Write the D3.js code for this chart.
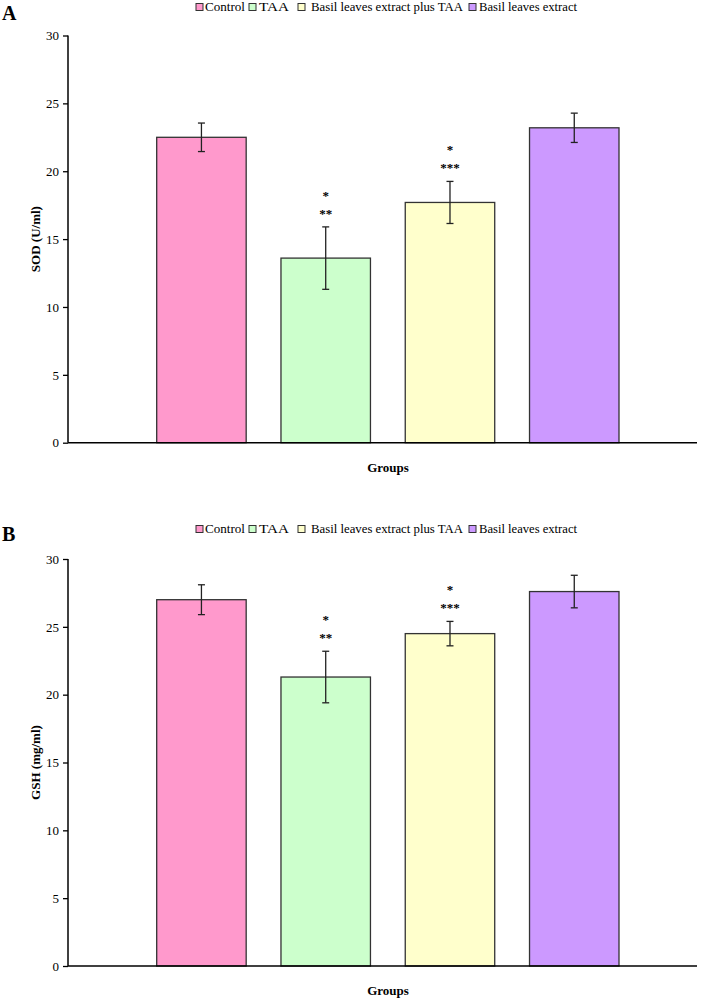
<!DOCTYPE html>
<html>
<head>
<meta charset="utf-8">
<script src="https://cdn.jsdelivr.net/npm/d3@7"></script>
<style>
  body { margin: 0; background: #fff; }
  svg { display: block; font-family: "Liberation Serif", "Times New Roman", serif; }
</style>
</head>
<body>
<svg id="chart" width="709" height="998"></svg>
<script>
// groups and values
const groups = ["Control", "TAA", "Basil leaves extract plus TAA", "Basil leaves extract"];
const colors = ["#ff99cc", "#ccffcc", "#ffffcc", "#cc99ff"];
const sodMean = [22.5, 13.6, 17.7, 23.2];
const sodErr = [1.05, 2.3, 1.55, 1.08];
const gshMean = [27.0, 21.3, 24.5, 27.6];
const gshErr = [1.1, 1.9, 0.9, 1.2];
const starsTop = ["", "*", "*", ""];
const starsLow = ["", "**", "***", ""];
const yTicks = [0, 5, 10, 15, 20, 25, 30];

const svg = d3.select("#chart");

// legend pieces (x start of square, text start, text width)
const legendX = [196, 249, 298, 469];
const legendTextX = [205, 259, 311, 479];
const legendTextW = [40, 30, 152, 98];

function panel(opts) {
    const g = svg.append("g");
    const y = d3.scaleLinear().domain([0, 30]).range([opts.y0, opts.y1]);
    const x = d3.scaleBand().domain(groups).range([156.7, 619]).paddingInner(0.28).paddingOuter(0);
    const axisX = 68, axisEnd = 697;

    // panel letter
    g.append("text")
        .attr("x", 2).attr("y", opts.letterY)
        .style("font-size", "20px").style("font-weight", "bold")
        .text(opts.letter);

    // legend
    groups.forEach((name, i) => {
        g.append("rect")
            .attr("x", legendX[i]).attr("y", opts.legendY - 7.5)
            .attr("width", 7).attr("height", 7)
            .attr("fill", colors[i]).attr("stroke", "#333").attr("stroke-width", 1);
        g.append("text")
            .attr("x", legendTextX[i]).attr("y", opts.legendY)
            .attr("textLength", legendTextW[i]).attr("lengthAdjust", "spacingAndGlyphs")
            .style("font-size", "12px")
            .text(name);
    });

    // y axis
    const yAxis = d3.axisLeft(y).tickValues(yTicks).tickSize(5).tickPadding(4);
    const ya = g.append("g").attr("transform", "translate(" + axisX + ",0)").call(yAxis);
    ya.select(".domain").remove();
    ya.selectAll("line").attr("stroke", "#000").attr("stroke-width", 1.3);
    ya.selectAll("text").style("font-size", "13px").style("font-family", "Liberation Serif").attr("fill", "#000");
    g.append("line")
        .attr("x1", axisX).attr("x2", axisX)
        .attr("y1", y(30)).attr("y2", y(0))
        .attr("stroke", "#000").attr("stroke-width", 1.5);

    // bars
    const data = opts.mean.map((m, i) => ({ name: groups[i], m: m, e: opts.err[i], c: colors[i], s1: starsTop[i], s2: starsLow[i] }));
    g.selectAll("rect.bar").data(data).join("rect")
        .attr("class", "bar")
        .attr("x", d => x(d.name))
        .attr("y", d => y(d.m))
        .attr("width", x.bandwidth())
        .attr("height", d => y(0) - y(d.m))
        .attr("fill", d => d.c)
        .attr("stroke", "#333")
        .attr("stroke-width", 1.3);

    // x axis line
    g.append("line")
        .attr("x1", axisX).attr("x2", axisEnd)
        .attr("y1", y(0)).attr("y2", y(0))
        .attr("stroke", "#000").attr("stroke-width", 1.5);

    // error bars
    const cx = d => x(d.name) + x.bandwidth() / 2;
    const eb = g.selectAll("g.err").data(data).join("g").attr("class", "err")
        .attr("stroke", "#222").attr("stroke-width", 1.3);
    eb.append("line").attr("x1", cx).attr("x2", cx)
        .attr("y1", d => y(d.m + d.e)).attr("y2", d => y(d.m - d.e));
    eb.append("line").attr("x1", d => cx(d) - 3.5).attr("x2", d => cx(d) + 3.5)
        .attr("y1", d => y(d.m + d.e)).attr("y2", d => y(d.m + d.e));
    eb.append("line").attr("x1", d => cx(d) - 3.5).attr("x2", d => cx(d) + 3.5)
        .attr("y1", d => y(d.m - d.e)).attr("y2", d => y(d.m - d.e));

    // significance stars
    g.selectAll("text.s1").data(data).join("text")
        .attr("class", "s1")
        .attr("x", cx).attr("y", d => y(d.m + d.e) - 33 + 6)
        .attr("text-anchor", "middle")
        .style("font-size", "13px").style("font-weight", "bold")
        .text(d => d.s1);
    g.selectAll("text.s2").data(data).join("text")
        .attr("class", "s2")
        .attr("x", cx).attr("y", d => y(d.m + d.e) - 15 + 6)
        .attr("text-anchor", "middle")
        .style("font-size", "13px").style("font-weight", "bold")
        .text(d => d.s2);

    // axis titles
    g.append("text")
        .attr("transform", "translate(40," + (y(15)) + ") rotate(-90)")
        .attr("text-anchor", "middle")
        .style("font-size", "13px").style("font-weight", "bold")
        .text(opts.yTitle);
    g.append("text")
        .attr("x", 388).attr("y", opts.xTitleY)
        .attr("text-anchor", "middle")
        .style("font-size", "13px").style("font-weight", "bold")
        .text("Groups");
}

panel({ letter: "A", letterY: 20, legendY: 11, y0: 442.7, y1: 35.5, mean: sodMean, err: sodErr, yTitle: "SOD (U/ml)", xTitleY: 472 });
panel({ letter: "B", letterY: 541, legendY: 533, y0: 966, y1: 559, mean: gshMean, err: gshErr, yTitle: "GSH (mg/ml)", xTitleY: 995 });
</script>
</body>
</html>
